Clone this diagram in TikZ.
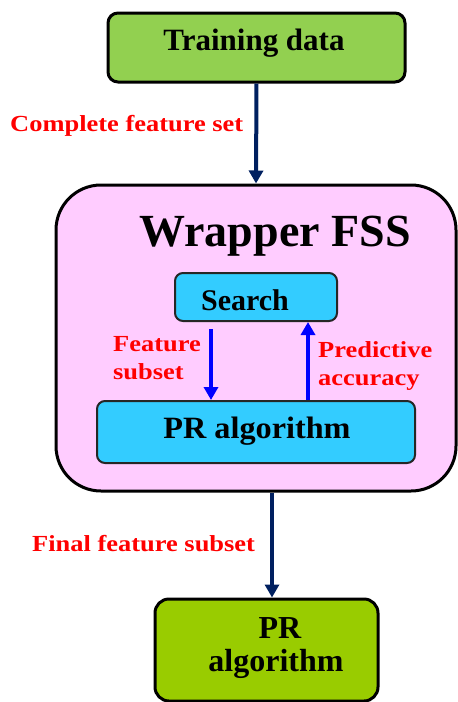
\documentclass[tikz,border=0pt]{standalone}
\usepackage{fontspec}
\usepackage{graphicx}
\setmainfont{Liberation Serif}
\usetikzlibrary{arrows.meta,calc}
\definecolor{trgreen}{RGB}{146,208,80}
\definecolor{olivegreen}{RGB}{153,204,0}
\definecolor{wrappink}{RGB}{255,204,255}
\definecolor{boxcyan}{RGB}{51,204,255}
\definecolor{navy}{RGB}{0,32,96}
\definecolor{lblred}{RGB}{255,0,0}
\newcommand\stretchtxt[1]{\scalebox{1.15}[1]{#1}}
\tikzset{
  outerbox/.style={draw=black, line width=3pt, rounded corners=#1},
  innerbox/.style={draw=black!85, line width=2pt, rounded corners=8pt, fill=boxcyan},
  navyarrow/.style={draw=navy, line width=4pt, -{Triangle[width=14pt,length=13pt]}},
  bluearrow/.style={draw=blue, line width=4.5pt, -{Triangle[width=14pt,length=13pt]}},
  redlbl/.style={text=lblred, font=\fontsize{23}{28}\selectfont\bfseries, align=left, inner sep=0pt},
  blacklbl/.style={text=black, font=\fontsize{#1}{#1}\selectfont\bfseries, inner sep=0pt}
}
\begin{document}
\begin{tikzpicture}[x=1pt,y=-1pt]
\useasboundingbox (0,0) rectangle (458,702);
% boxes
\node[outerbox=10pt, fill=trgreen, minimum width=297pt, minimum height=69pt] (train) at (256.5,47.5) {};
\node[outerbox=45pt, fill=wrappink, minimum width=400pt, minimum height=306pt] (wrapper) at (256,338) {};
\node[innerbox, minimum width=162pt, minimum height=48pt] (search) at (256,297) {};
\node[innerbox, minimum width=318pt, minimum height=62pt] (pr) at (256,432) {};
\node[outerbox=14pt, fill=olivegreen, minimum width=223pt, minimum height=102pt] (final) at (266.5,650) {};
% texts
\node[blacklbl=31] (traintxt) at (254,43) {Training data};
\node[blacklbl=46] (wraptxt) at (275,236) {Wrapper FSS};
\node[blacklbl=30] (searchtxt) at (245,300) {Search};
\node[blacklbl=31] (prtxt) at (257,431) {\scalebox{1.04}[1]{PR algorithm}};
\node[blacklbl=32, align=center, font=\fontsize{32}{33}\selectfont\bfseries] (finaltxt) at (276,648) {\hspace*{8pt}PR\\algorithm};
% labels
\node[redlbl, anchor=west] (lcomplete) at (10,126) {\stretchtxt{Complete feature set}};
\node[redlbl, anchor=west] (lfinal) at (32,544) {\stretchtxt{Final feature subset}};
\node[redlbl, anchor=west] (lfeat) at (113,358) {\stretchtxt{Feature}\\\stretchtxt{subset}};
\node[redlbl, anchor=west] (lpred) at (318,366) {\stretchtxt{Predictive}\\\stretchtxt{accuracy}};
% connectors
\coordinate (downstart) at ($(search.south)+(-45,7)$);
\coordinate (upend) at ($(search.south)+(52,0)$);
\coordinate (botstart) at ($(wrapper.south)+(16,0)$);
\draw[navyarrow] (train.south) -- (wrapper.north);
\draw[bluearrow] (downstart) -- (pr.north -| downstart);
\draw[bluearrow] (pr.north -| upend) -- (upend);
\draw[navyarrow] (botstart) -- (final.north -| botstart);
\end{tikzpicture}
\end{document}
